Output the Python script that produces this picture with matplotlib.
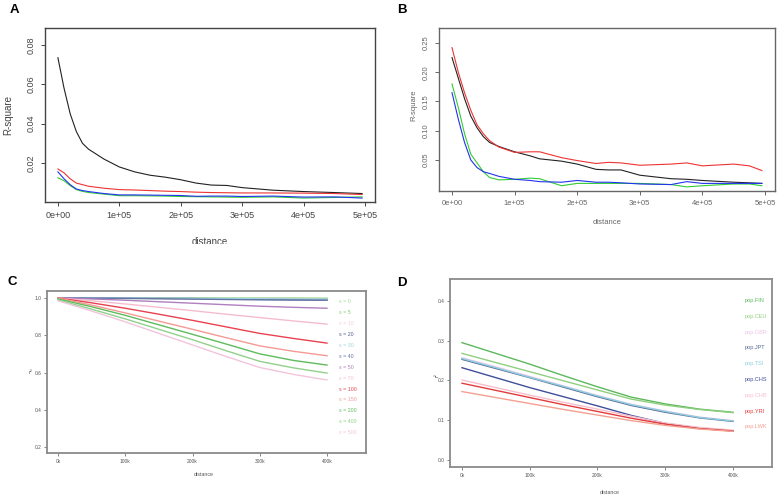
import numpy as np
import matplotlib
matplotlib.use("Agg")
import matplotlib.pyplot as plt
from matplotlib.patches import Rectangle

plt.rcParams['font.family'] = ['Liberation Sans', 'DejaVu Sans']

# panel A data
a_dist = [0, 10000, 20000, 30000, 40000, 50000, 75000, 100000, 125000, 150000,
          175000, 200000, 225000, 250000, 275000, 300000, 350000, 400000, 450000, 495000]
a_black = [0.0735, 0.058, 0.045, 0.036, 0.030, 0.027, 0.022, 0.018, 0.0155, 0.0138,
           0.0128, 0.0115, 0.0098, 0.0088, 0.0086, 0.0075, 0.0062, 0.0055, 0.005, 0.0045]
a_red = [0.017, 0.015, 0.012, 0.0098, 0.009, 0.0082, 0.0072, 0.0065, 0.0063, 0.006,
         0.0057, 0.0055, 0.0052, 0.005, 0.0049, 0.0048, 0.0048, 0.0047, 0.0045, 0.004]
a_green = [0.0125, 0.011, 0.0085, 0.0065, 0.0056, 0.005, 0.0042, 0.0034, 0.0034, 0.0033,
           0.0032, 0.003, 0.0029, 0.0028, 0.0027, 0.0026, 0.0028, 0.0022, 0.0025, 0.0028]
a_blue = [0.0155, 0.012, 0.009, 0.0068, 0.006, 0.0055, 0.0045, 0.0038, 0.0038, 0.0037,
          0.0036, 0.0035, 0.0031, 0.0032, 0.0032, 0.0030, 0.0032, 0.0027, 0.0028, 0.0022]

# panel B data
b_dist = [0, 10000, 20000, 30000, 40000, 50000, 60000, 75000, 100000, 125000, 140000,
          175000, 200000, 230000, 250000, 270000, 300000, 350000, 375000, 400000,
          450000, 475000, 495000]
b_black = [0.225, 0.19, 0.155, 0.125, 0.105, 0.09, 0.08, 0.073, 0.064, 0.057, 0.052,
           0.048, 0.043, 0.034, 0.033, 0.033, 0.024, 0.018, 0.017, 0.015, 0.012, 0.011, 0.01]
b_red = [0.242, 0.20, 0.165, 0.135, 0.11, 0.095, 0.083, 0.072, 0.063, 0.064, 0.064,
         0.054, 0.049, 0.044, 0.046, 0.045, 0.041, 0.043, 0.045, 0.04, 0.043, 0.04, 0.032]
b_green = [0.18, 0.14, 0.095, 0.06, 0.045, 0.03, 0.02, 0.016, 0.017, 0.019, 0.018,
           0.006, 0.01, 0.01, 0.01, 0.01, 0.01, 0.008, 0.004, 0.006, 0.009, 0.009, 0.006]
b_blue = [0.165, 0.12, 0.08, 0.05, 0.037, 0.03, 0.027, 0.022, 0.017, 0.015, 0.013,
          0.012, 0.015, 0.012, 0.012, 0.011, 0.009, 0.008, 0.013, 0.01, 0.01, 0.01, 0.01]

# panel C data
c_dist = [0, 50000, 100000, 150000, 200000, 250000, 300000, 350000, 400000]
c_labels = ["s = 0", "s = 5", "s = 10", "s = 20", "s = 30", "s = 40", "s = 50",
            "s = 70", "s = 100", "s = 150", "s = 200", "s = 400", "s = 500"]
c_colors = ["#a6dc98", "#86cc76", "#f7cadb", "#4c5f8f", "#a3d3e3", "#6476a6", "#b07fc0",
            "#f5bccd", "#e8414f", "#f49a94", "#5fbb5c", "#8fd18a", "#f2c4dc"]
c_values = [
    [1.0, 1.0, 1.0, 1.0, 1.0, 1.0, 1.0, 1.0, 1.0],
    [1.0, 1.0, 1.0, 1.0, 1.0, 0.999, 0.999, 0.999, 0.998],
    [1.0, 1.0, 0.999, 0.998, 0.997, 0.996, 0.995, 0.994, 0.993],
    [1.0, 1.0, 0.999, 0.998, 0.997, 0.995, 0.993, 0.991, 0.99],
    [1.0, 1.0, 1.0, 0.999, 0.998, 0.997, 0.996, 0.995, 0.994],
    [1.0, 0.999, 0.998, 0.996, 0.994, 0.992, 0.99, 0.989, 0.988],
    [1.0, 0.995, 0.988, 0.98, 0.972, 0.964, 0.956, 0.95, 0.945],
    [1.0, 0.985, 0.968, 0.95, 0.932, 0.913, 0.895, 0.877, 0.86],
    [1.0, 0.974, 0.945, 0.913, 0.88, 0.845, 0.81, 0.783, 0.758],
    [1.0, 0.962, 0.92, 0.876, 0.832, 0.787, 0.743, 0.714, 0.69],
    [0.995, 0.953, 0.907, 0.856, 0.805, 0.753, 0.7, 0.665, 0.64],
    [0.99, 0.94, 0.888, 0.832, 0.776, 0.717, 0.66, 0.625, 0.597],
    [0.985, 0.93, 0.872, 0.81, 0.748, 0.686, 0.627, 0.59, 0.56],
]

# panel D data
d_dist = [0, 50000, 100000, 150000, 200000, 250000, 300000, 350000, 400000]
d_labels = ["pop.FIN", "pop.CEU", "pop.GBR", "pop.JPT", "pop.TSI", "pop.CHS",
            "pop.CHB", "pop.YRI", "pop.LWK"]
d_colors = ["#5cb85c", "#8fcf7f", "#e9c6e6", "#5a6b96", "#8ccfe0", "#3f4f9a",
            "#f6bfcc", "#e33b3b", "#f4a090"]
d_values = [
    [0.295, 0.268, 0.241, 0.212, 0.184, 0.158, 0.141, 0.128, 0.12],
    [0.268, 0.245, 0.222, 0.199, 0.176, 0.153, 0.138, 0.127, 0.119],
    [0.257, 0.234, 0.21, 0.186, 0.162, 0.14, 0.123, 0.108, 0.099],
    [0.253, 0.23, 0.207, 0.183, 0.159, 0.137, 0.12, 0.106, 0.097],
    [0.255, 0.232, 0.208, 0.185, 0.161, 0.139, 0.122, 0.107, 0.098],
    [0.232, 0.207, 0.182, 0.159, 0.136, 0.112, 0.092, 0.08, 0.073],
    [0.201, 0.182, 0.163, 0.145, 0.128, 0.11, 0.093, 0.082, 0.075],
    [0.193, 0.175, 0.157, 0.139, 0.122, 0.105, 0.09, 0.079, 0.073],
    [0.172, 0.157, 0.142, 0.127, 0.113, 0.099, 0.087, 0.078, 0.072],
]

W, H = 779, 499
fig = plt.figure(figsize=(W / 100, H / 100), dpi=100)


def box(l, t, r, b):
    return [l / W, 1 - b / H, (r - l) / W, (b - t) / H]


def r_style(ax, col, fs):
    for s in ax.spines.values():
        s.set_color(col)
        s.set_linewidth(1.0)
    ax.tick_params(colors=col, labelcolor=col, labelsize=fs, length=3, width=0.7)
    for lab in ax.get_yticklabels():
        lab.set_rotation(90)
        lab.set_va('center')


r_cols = ["#222222", "#ee3333", "#33cc33", "#2233ee"]

# A
axA = fig.add_axes(box(45, 28, 375, 202))
for y, c in zip([a_black, a_red, a_green, a_blue], r_cols):
    axA.plot(a_dist, y, color=c, lw=0.8)
axA.set_xlim(-21000, 516000)
axA.set_ylim(0.0002, 0.0886)
axA.set_xticks([0, 100000, 200000, 300000, 400000, 500000])
axA.set_xticklabels(["0e+00", "1e+05", "2e+05", "3e+05", "4e+05", "5e+05"])
axA.set_yticks([0.02, 0.04, 0.06, 0.08])
axA.set_yticklabels(["0.02", "0.04", "0.06", "0.08"])
r_style(axA, "#444444", 6.5)
fig.text(8 / W, 1 - 115 / H, "R-square", rotation=90, ha='center', va='center',
         fontsize=7, color="#444444")
# the x label of panel A is cut off in the original
t = fig.text(210 / W, 1 - 237 / H, "distance", ha='center', va='top',
             fontsize=7, color="#444444")
clip = Rectangle((0, 1 - 243.5 / H), 0.5, 243.5 / H, transform=fig.transFigure,
                 visible=False)
fig.add_artist(clip)
t.set_clip_path(clip)
t.set_clip_on(True)
fig.text(10 / W, 1 - 10 / H, "A", fontsize=9.5, fontweight='bold', ha='left', va='center')

# B
axB = fig.add_axes(box(439, 28, 775, 191))
for y, c in zip([b_black, b_red, b_green, b_blue], r_cols):
    axB.plot(b_dist, y, color=c, lw=0.8)
axB.set_xlim(-20800, 516000)
axB.set_ylim(-0.003, 0.2756)
axB.set_xticks([0, 100000, 200000, 300000, 400000, 500000])
axB.set_xticklabels(["0e+00", "1e+05", "2e+05", "3e+05", "4e+05", "5e+05"])
axB.set_yticks([0.05, 0.10, 0.15, 0.20, 0.25])
axB.set_yticklabels(["0.05", "0.10", "0.15", "0.20", "0.25"])
r_style(axB, "#666666", 5.5)
fig.text(414 / W, 1 - 105 / H, "R-square", rotation=90, ha='center', va='center',
         fontsize=5.5, color="#666666")
fig.text(607 / W, 1 - 222 / H, "distance", ha='center', va='center',
         fontsize=5.5, color="#666666")
fig.text(397 / W, 1 - 10 / H, "B", fontsize=9.5, fontweight='bold', ha='left', va='center')


def gg_style(ax):
    for s in ax.spines.values():
        s.set_color("#8a8a8a")
        s.set_linewidth(1.3)
    ax.tick_params(colors="#555555", labelcolor="#555555", labelsize=3.5,
                   length=2, width=0.5, pad=2)


# C
axC = fig.add_axes(box(47, 291, 366, 453))
for y, c in zip(c_values, c_colors):
    axC.plot(c_dist, y, color=c, lw=1.0)
axC.set_xlim(-16400, 458000)
axC.set_ylim(0.168, 1.0376)
axC.set_xticks([0, 100000, 200000, 300000, 400000])
axC.set_xticklabels(["0k", "100k", "200k", "300k", "400k"])
axC.set_yticks([0.2, 0.4, 0.6, 0.8, 1.0])
axC.set_yticklabels(["0.2", "0.4", "0.6", "0.8", "1.0"])
gg_style(axC)
for i, (lab, c) in enumerate(zip(c_labels, c_colors)):
    axC.text(0.915, 0.935 - i * 0.0675, lab, color=c, fontsize=3.8,
             transform=axC.transAxes, ha='left', va='center')
fig.text(30 / W, 1 - 373 / H, "r\u00b2", ha='center', va='center', fontsize=4,
         color="#555555")
fig.text(204 / W, 1 - 475 / H, "distance", ha='center', va='center', fontsize=3.8,
         color="#555555")
fig.text(8 / W, 1 - 282 / H, "C", fontsize=9.5, fontweight='bold', ha='left', va='center')

# D
axD = fig.add_axes(box(450, 279, 772, 467))
for y, c in zip(d_values, d_colors):
    axD.plot(d_dist, y, color=c, lw=1.0)
axD.set_xlim(-17700, 457600)
axD.set_ylim(-0.0176, 0.455)
axD.set_xticks([0, 100000, 200000, 300000, 400000])
axD.set_xticklabels(["0k", "100k", "200k", "300k", "400k"])
axD.set_yticks([0.0, 0.1, 0.2, 0.3, 0.4])
axD.set_yticklabels(["0.0", "0.1", "0.2", "0.3", "0.4"])
gg_style(axD)
for i, (lab, c) in enumerate(zip(d_labels, d_colors)):
    axD.text(0.915, 0.885 - i * 0.084, lab, color=c, fontsize=4,
             transform=axD.transAxes, ha='left', va='center')
fig.text(437 / W, 1 - 375 / H, "r\u00b2", rotation=90, ha='center', va='center',
         fontsize=4, color="#555555")
fig.text(610 / W, 1 - 493 / H, "distance", ha='center', va='center', fontsize=3.8,
         color="#555555")
fig.text(397 / W, 1 - 283 / H, "D", fontsize=9.5, fontweight='bold', ha='left', va='center')

fig.savefig("out.png", dpi=100)
